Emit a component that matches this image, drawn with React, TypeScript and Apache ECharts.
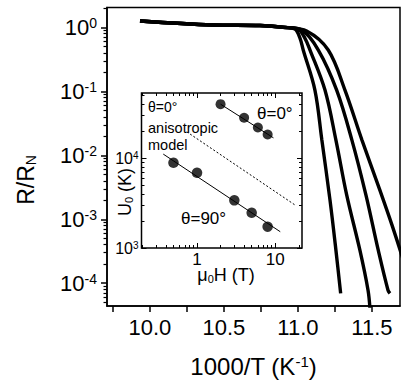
import React, { useEffect, useRef } from 'react';
import * as echarts from 'echarts';

const FONT = "'Liberation Sans', Arial, Helvetica, sans-serif";

// ---- main panel: R/R_N vs 1000/T (K^-1) ----
const curve1X = [9.933, 10.426, 10.744, 10.913, 10.98, 11.014, 11.036, 11.115, 11.162, 11.217, 11.257, 11.289];
const curve1Y = [1.259, 1.09, 1.07, 1.0, 0.944, 0.682, 0.443, 0.1048, 0.0173, 0.00199, 3.28e-4, 6.94e-5];
const curve2X = [9.933, 10.426, 10.744, 10.913, 11.0, 11.047, 11.082, 11.183, 11.257, 11.33, 11.419, 11.474, 11.487];
const curve2Y = [1.259, 1.09, 1.07, 1.0, 0.944, 0.682, 0.443, 0.1048, 0.0173, 0.00238, 3.28e-4, 7.77e-5, 4.0e-5];
const curve3X = [9.933, 10.426, 10.744, 10.913, 11.026, 11.138, 11.262, 11.365, 11.46, 11.543, 11.609, 11.622];
const curve3Y = [1.259, 1.09, 1.07, 1.0, 0.91, 0.443, 0.1048, 0.0173, 0.00238, 3.28e-4, 7.77e-5, 6.94e-5];
const curve4X = [9.933, 10.426, 10.744, 10.913, 11.059, 11.205, 11.318, 11.433, 11.554, 11.636, 11.717];
const curve4Y = [1.259, 1.09, 1.07, 1.0, 0.879, 0.443, 0.1048, 0.0173, 0.00285, 8.09e-4, 2.13e-4];

const mainXLabels = [10.0, 10.5, 11.0, 11.5];
const mainXTicks = [9.75, 10.0, 10.25, 10.5, 10.75, 11.0, 11.25, 11.5];
const mainYMajor = [1e-4, 1e-3, 1e-2, 1e-1, 1];

// ---- inset: U0 vs mu0 H ----
const h0 = [2, 4, 6, 8];
const u0 = [39800, 28100, 21900, 18300];
const h90 = [0.5, 1, 3, 5, 8];
const u90 = [8870, 6870, 3390, 2465, 1725];
const fit0H = [2, 9.5];
const fit0U = [39800, 16800];
const fit90H = [0.37, 11.6];
const fit90U = [11080, 1517];
const modelH = [0.74, 18];
const modelU = [19600, 3000];

const insetXMajor = [1, 10];
const insetYMajor = [1000, 10000];

function logMinors(lo: number, hi: number, min: number, max: number) {
  const out: number[] = [];
  for (let e = lo; e <= hi; e++) {
    for (let m = 2; m <= 9; m++) {
      const v = m * Math.pow(10, e);
      if (v >= min && v <= max) out.push(v);
    }
  }
  return out;
}

const toPairs = (xs: number[], ys: number[]) => xs.map((x, i) => [x, ys[i]]);

export default function App() {
  const ref = useRef<HTMLDivElement>(null);
  useEffect(() => {
    if (!ref.current) return;
    const chart = echarts.init(ref.current, undefined, { renderer: 'svg' });

    const mainYMin = 4.4e-5, mainYMax = 2.05;
    const inXMin = 0.195, inXMax = 22;
    const inYMin = 1000, inYMax = 53000;

    const blackLine = { lineStyle: { color: '#000', width: 1.5 } };

    const insetXAxis = (pos: 'bottom' | 'top', vals: number[], len: number, labels: boolean) => ({
      type: 'log', gridIndex: 1, position: pos, min: inXMin, max: inXMax,
      axisLine: { show: false },
      axisTick: { show: true, inside: true, length: len, customValues: vals, lineStyle: { color: '#000', width: 1 } },
      axisLabel: labels
        ? { show: true, customValues: insetXMajor, formatter: (v: number) => String(Math.round(v)), fontSize: 17, fontFamily: FONT, color: '#000', margin: 3 }
        : { show: false },
      splitLine: { show: false },
    });
    const insetYAxis = (pos: 'left' | 'right', vals: number[], len: number, labels: boolean) => ({
      type: 'log', gridIndex: 1, position: pos, min: inYMin, max: inYMax,
      axisLine: { show: false },
      axisTick: { show: true, inside: true, length: len, customValues: vals, lineStyle: { color: '#000', width: 1 } },
      axisLabel: labels
        ? {
            show: true, customValues: insetYMajor, margin: 3,
            formatter: (v: number) => `{b|10}{s|${Math.round(Math.log10(v))}}`,
            rich: {
              b: { fontSize: 16, fontFamily: FONT, color: '#000' },
              s: { fontSize: 10, fontFamily: FONT, color: '#000', verticalAlign: 'top' },
            },
          }
        : { show: false },
      splitLine: { show: false },
    });

    const insetXMinor = logMinors(-1, 1, inXMin, inXMax);
    const insetYMinor = logMinors(3, 4, inYMin, inYMax);

    const option: any = {
      animation: false,
      backgroundColor: '#fff',
      grid: [
        { left: 107, top: 7.5, width: 293, height: 298.5, show: true, borderColor: '#000', borderWidth: 1.5, backgroundColor: 'transparent' },
        { left: 141.5, top: 93, width: 160.5, height: 155, show: true, borderColor: '#000', borderWidth: 1.5, backgroundColor: '#fff' },
      ],
      xAxis: [
        {
          type: 'value', gridIndex: 0, position: 'bottom', min: 9.71, max: 11.69,
          axisLine: { show: true, ...blackLine },
          axisTick: { show: true, inside: false, length: 6, customValues: mainXTicks, lineStyle: { color: '#000', width: 1.5 } },
          axisLabel: {
            show: true, customValues: mainXLabels, formatter: (v: number) => v.toFixed(1),
            fontSize: 22, fontFamily: FONT, color: '#000', margin: 10,
          },
          splitLine: { show: false },
          name: '{t|1000/T (K}{s|-1}{t|)}',
          nameLocation: 'middle', nameGap: 48,
          nameTextStyle: {
            rich: {
              t: { fontSize: 24, fontFamily: FONT, color: '#000' },
              s: { fontSize: 15, fontFamily: FONT, color: '#000', verticalAlign: 'top' },
            },
          },
        },
        insetXAxis('bottom', insetXMajor, 5, true),
        insetXAxis('bottom', insetXMinor, 3, false),
        insetXAxis('top', insetXMajor, 5, false),
        insetXAxis('top', insetXMinor, 3, false),
      ],
      yAxis: [
        {
          type: 'log', gridIndex: 0, position: 'left', min: mainYMin, max: mainYMax,
          axisLine: { show: true, ...blackLine },
          axisTick: { show: true, inside: false, length: 6, customValues: mainYMajor, lineStyle: { color: '#000', width: 1.5 } },
          axisLabel: {
            show: true, customValues: mainYMajor, margin: 10,
            formatter: (v: number) => `{b|10}{s|${Math.round(Math.log10(v))}}`,
            rich: {
              b: { fontSize: 22, fontFamily: FONT, color: '#000' },
              s: { fontSize: 14, fontFamily: FONT, color: '#000', verticalAlign: 'top' },
            },
          },
          splitLine: { show: false },
        },
        {
          type: 'log', gridIndex: 0, position: 'left', min: mainYMin, max: mainYMax,
          axisLine: { show: false },
          axisTick: { show: true, inside: false, length: 3.5, customValues: logMinors(-5, 0, mainYMin, mainYMax), lineStyle: { color: '#000', width: 1.2 } },
          axisLabel: { show: false },
          splitLine: { show: false },
        },
        insetYAxis('left', insetYMajor, 5, true),
        insetYAxis('left', insetYMinor, 3, false),
        insetYAxis('right', insetYMajor, 5, false),
        insetYAxis('right', insetYMinor, 3, false),
      ],
      series: [
        ...[
          [curve1X, curve1Y],
          [curve2X, curve2Y],
          [curve3X, curve3Y],
          [curve4X, curve4Y],
        ].map(([xs, ys]) => ({
          type: 'line', xAxisIndex: 0, yAxisIndex: 0, data: toPairs(xs, ys),
          symbol: 'none', smooth: 0.35, clip: true,
          lineStyle: { color: '#000', width: 3.4 },
        })),
        {
          type: 'line', xAxisIndex: 1, yAxisIndex: 2, data: toPairs(modelH, modelU),
          symbol: 'none', lineStyle: { color: '#000', width: 1, type: [2, 2] },
        },
        {
          type: 'line', xAxisIndex: 1, yAxisIndex: 2, data: toPairs(fit0H, fit0U),
          symbol: 'none', lineStyle: { color: '#000', width: 1 },
        },
        {
          type: 'line', xAxisIndex: 1, yAxisIndex: 2, data: toPairs(fit90H, fit90U),
          symbol: 'none', lineStyle: { color: '#000', width: 1 },
        },
        {
          type: 'scatter', xAxisIndex: 1, yAxisIndex: 2, data: toPairs(h0, u0),
          symbol: 'circle', symbolSize: 10, itemStyle: { color: '#000' },
        },
        {
          type: 'scatter', xAxisIndex: 1, yAxisIndex: 2, data: toPairs(h90, u90),
          symbol: 'circle', symbolSize: 10.5, itemStyle: { color: '#000' },
        },
      ],
      graphic: [
        {
          type: 'text', x: 26, y: 180, rotation: Math.PI / 2,
          style: {
            text: '{a|R/R}{b|N}', textAlign: 'center', textVerticalAlign: 'middle', align: 'center', verticalAlign: 'middle',
            rich: {
              a: { fontSize: 23, fontFamily: FONT, fill: '#000', textFill: '#000' },
              b: { fontSize: 14, fontFamily: FONT, fill: '#000', textFill: '#000', verticalAlign: 'bottom' },
            },
          },
        },
        {
          type: 'text', x: 125, y: 192, rotation: Math.PI / 2,
          style: {
            text: '{a|U}{b|0}{a| (K)}', textAlign: 'center', textVerticalAlign: 'middle', align: 'center', verticalAlign: 'middle',
            rich: {
              a: { fontSize: 18, fontFamily: FONT, fill: '#000', textFill: '#000' },
              b: { fontSize: 11, fontFamily: FONT, fill: '#000', textFill: '#000', verticalAlign: 'bottom' },
            },
          },
        },
        {
          type: 'text', x: 226, y: 275,
          style: {
            text: '{a|μ}{b|0}{a|H (T)}', textAlign: 'center', textVerticalAlign: 'middle', align: 'center', verticalAlign: 'middle',
            rich: {
              a: { fontSize: 18, fontFamily: FONT, fill: '#000', textFill: '#000' },
              b: { fontSize: 11, fontFamily: FONT, fill: '#000', textFill: '#000', verticalAlign: 'bottom' },
            },
          },
        },
        ...[
          { t: 'θ=0°', x: 148, y: 107, s: 14 },
          { t: 'anisotropic', x: 148, y: 128, s: 14.5 },
          { t: 'model', x: 148, y: 145, s: 14.5 },
          { t: 'θ=0°', x: 257, y: 113, s: 17 },
          { t: 'θ=90°', x: 181, y: 218, s: 17 },
        ].map((d) => ({
          type: 'text', x: d.x, y: d.y,
          style: {
            text: d.t, fontSize: d.s, fontFamily: FONT, fill: '#000',
            textAlign: 'left', textVerticalAlign: 'middle', align: 'left', verticalAlign: 'middle',
          },
        })),
      ],
    };
    chart.setOption(option);
    return () => chart.dispose();
  }, []);
  return <div ref={ref} style={{ position: 'fixed', left: 0, top: 0, width: 401, height: 386 }} />;
}
